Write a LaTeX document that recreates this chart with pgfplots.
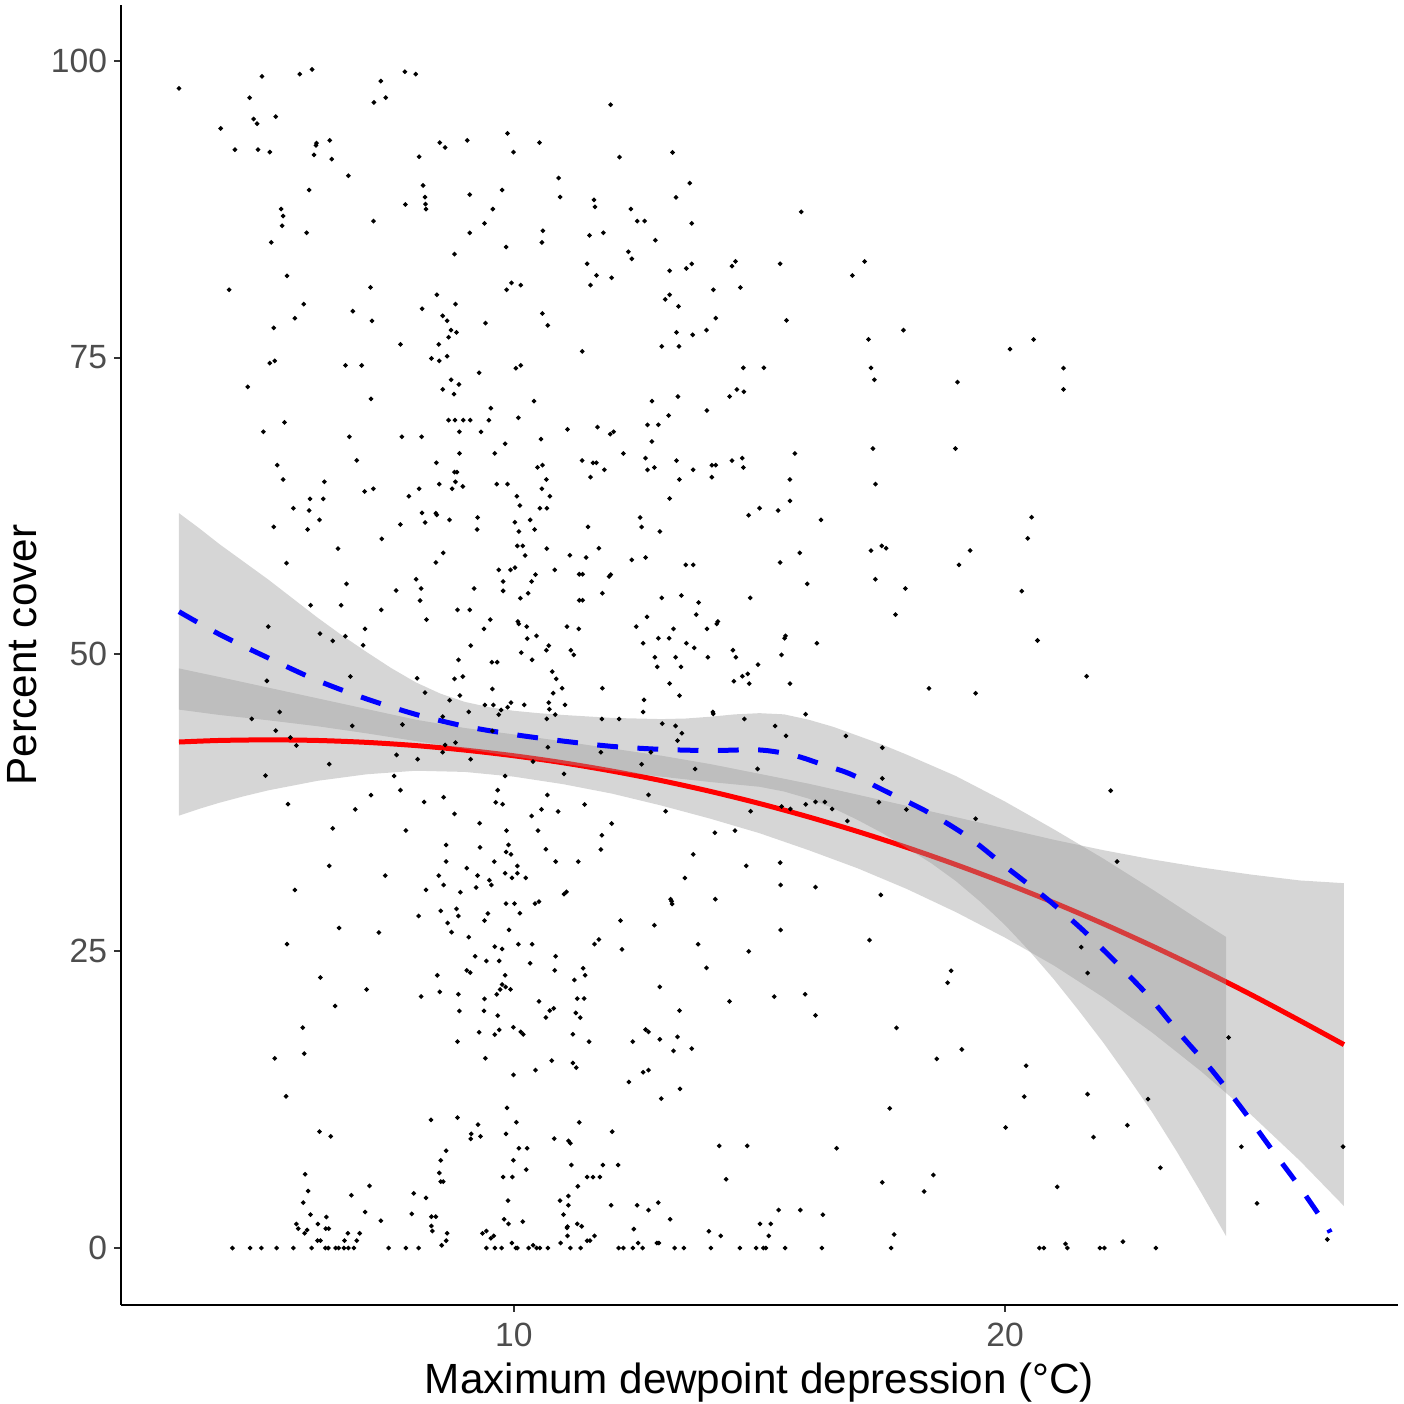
\documentclass[border=0pt]{standalone}
\usepackage{fontspec}
\setmainfont{Liberation Sans}
\usepackage{pgfplots}
\pgfplotsset{compat=1.18}
\usepackage{pgfplotstable}
\definecolor{ribbon}{RGB}{153,153,153}
\definecolor{ticklab}{RGB}{77,77,77}
\definecolor{tickcol}{RGB}{51,51,51}
\definecolor{fitred}{RGB}{255,0,0}
\definecolor{fitblue}{RGB}{0,0,255}

\pgfplotstableread{
x y
3.18 97.67
4.87 98.68
5.64 98.88
5.89 99.27
7.78 99.08
8.00 98.88
7.29 98.29
4.62 96.89
7.15 96.49
7.39 96.89
4.70 95.09
4.77 94.70
5.15 95.29
4.03 94.30
4.32 92.51
4.79 92.51
5.03 92.31
5.98 93.07
5.97 92.87
6.25 93.29
5.93 92.08
6.29 91.72
6.63 90.32
8.07 91.92
8.49 93.10
8.60 92.70
9.05 93.29
9.87 93.88
10.52 93.10
9.99 92.31
10.91 90.12
10.94 88.52
5.83 89.11
8.15 89.50
8.19 88.52
8.20 87.93
8.21 87.51
7.79 87.90
9.10 88.72
9.76 89.11
9.57 87.51
9.40 86.30
9.10 85.51
5.26 87.51
5.30 86.92
5.28 86.10
5.78 85.51
7.14 86.50
5.06 84.70
10.59 85.68
10.57 84.70
9.84 84.31
8.79 83.72
5.38 81.89
4.20 80.71
7.08 80.91
9.85 80.71
9.95 81.30
10.14 81.10
8.43 80.29
8.81 79.50
8.13 79.11
5.72 79.50
5.54 78.32
6.72 78.91
7.11 78.10
8.55 78.52
8.64 78.10
8.72 77.31
8.83 77.12
8.67 76.72
9.42 77.90
10.58 78.72
10.69 77.71
5.11 77.51
7.69 76.11
8.47 76.11
8.32 74.93
8.48 74.73
8.64 75.12
5.03 74.53
5.13 74.73
6.57 74.34
6.90 74.34
9.29 73.72
10.04 74.11
10.14 74.34
4.58 72.54
8.72 73.13
8.88 72.74
8.55 72.32
8.78 71.92
7.09 71.53
10.41 71.33
9.53 70.74
8.67 69.73
8.80 69.73
8.97 69.73
9.11 69.73
9.49 69.73
10.09 69.93
11.09 68.95
4.90 68.75
5.33 69.54
6.65 68.33
7.72 68.33
8.12 68.33
8.89 68.75
9.33 68.75
10.55 68.13
9.82 67.74
8.89 66.93
9.61 66.93
6.80 66.34
5.18 65.94
8.42 66.14
8.79 65.35
8.84 65.35
10.48 65.75
10.58 65.94
5.30 64.73
6.14 64.54
8.48 64.34
8.81 64.54
8.96 64.15
9.65 64.34
9.87 64.34
10.66 64.73
7.14 63.95
8.07 63.95
8.74 63.95
10.57 63.95
11.97 96.30
12.15 91.89
13.23 92.28
13.58 89.70
13.30 88.49
11.63 88.29
11.65 87.70
12.38 87.51
12.51 86.50
12.66 86.50
13.62 86.30
15.85 87.28
11.54 85.29
11.82 85.51
12.88 84.89
12.33 83.91
12.40 83.32
11.49 82.90
11.68 81.92
11.56 81.10
11.99 81.72
13.17 82.31
13.51 82.51
13.62 82.90
14.44 82.71
14.51 83.10
15.42 82.90
17.14 83.10
16.89 81.92
14.06 80.71
14.61 80.91
13.17 80.29
13.08 79.90
13.35 79.31
14.11 78.32
15.55 78.13
17.93 77.31
13.31 77.12
13.64 76.92
13.92 77.31
13.01 75.94
13.36 75.94
11.39 75.52
17.22 76.53
14.67 74.14
15.09 74.14
17.27 74.14
17.34 73.13
19.03 72.93
14.54 72.31
14.68 72.12
14.39 71.72
13.34 71.72
12.81 71.33
13.93 70.54
13.15 70.12
12.72 69.34
12.94 69.34
11.70 69.14
11.96 68.55
12.03 68.75
12.81 67.93
12.23 66.92
12.68 66.53
11.39 66.33
11.61 66.14
11.68 66.14
11.84 65.55
12.72 65.55
12.86 65.74
13.31 66.33
13.65 65.55
14.03 65.94
14.11 65.94
14.44 66.33
14.65 66.53
14.67 65.74
15.72 66.92
17.31 67.34
18.99 67.34
11.56 64.93
13.37 64.73
14.03 64.93
15.62 64.73
17.36 64.34
13.17 63.13
12.57 61.53
12.60 60.74
12.97 60.35
11.51 60.74
14.78 61.72
15.00 62.31
15.38 62.12
15.62 62.93
16.25 61.33
11.73 58.94
11.47 58.16
11.14 58.35
12.40 57.96
12.68 58.16
13.50 57.54
13.65 57.54
15.42 57.74
15.82 58.55
17.27 58.75
17.49 59.14
17.58 58.94
19.29 58.75
19.06 57.54
17.36 56.33
17.97 55.55
17.77 53.35
11.33 56.75
11.40 56.75
11.94 56.56
11.97 56.72
11.80 55.15
15.97 55.94
11.33 54.56
11.40 54.56
13.01 54.76
13.41 54.96
14.81 54.76
13.76 54.37
13.71 53.35
12.71 53.16
12.49 52.34
11.32 52.15
14.15 52.77
14.13 52.57
13.93 52.15
13.25 52.15
15.53 51.56
15.51 51.36
12.94 51.36
13.16 51.36
12.63 50.94
13.51 50.94
13.67 50.55
16.17 50.94
11.16 50.35
11.22 49.96
14.46 50.35
14.52 49.76
15.45 49.96
12.87 49.76
13.29 49.76
13.95 49.76
12.92 48.95
13.40 48.95
14.97 49.14
14.76 48.36
14.65 48.16
14.48 47.74
14.79 47.54
15.62 47.54
13.17 47.54
11.80 47.15
5.85 63.10
6.12 63.10
5.51 62.31
5.83 62.12
6.04 61.33
5.11 60.74
5.80 60.52
6.96 63.72
7.86 63.32
8.41 61.89
8.43 61.75
8.13 61.92
8.19 61.11
8.69 61.33
7.69 60.94
7.31 59.73
6.42 58.91
5.37 57.68
6.59 55.94
7.60 55.38
8.01 56.33
8.11 55.55
8.09 54.53
7.30 53.75
8.22 52.93
8.56 58.55
8.41 57.74
8.85 53.75
9.10 53.75
9.26 61.53
9.25 60.52
9.19 55.55
9.52 52.93
9.39 52.15
10.06 63.32
10.12 62.54
10.02 61.13
10.10 60.35
10.33 61.33
10.42 60.52
10.53 62.31
10.67 62.31
10.73 63.32
10.07 59.14
10.18 59.14
10.23 58.33
10.67 58.91
9.69 57.12
9.93 57.12
10.02 57.31
9.78 56.14
9.78 55.35
10.44 56.72
10.36 56.14
10.83 57.12
10.13 54.73
10.29 55.15
10.08 52.77
10.10 52.57
10.26 52.34
10.46 51.56
10.27 51.33
10.15 50.15
10.37 49.54
11.08 52.34
10.71 50.74
10.66 50.35
10.78 48.55
10.86 47.94
10.80 46.73
10.98 47.15
10.71 45.94
10.72 45.38
10.84 44.93
10.67 44.57
10.69 42.18
11.04 45.74
11.02 39.93
9.55 49.34
9.66 49.34
8.87 49.54
9.12 50.74
8.79 47.94
8.96 48.13
8.90 46.53
9.56 47.09
8.69 46.14
9.41 45.74
9.58 45.74
9.74 45.32
9.87 45.55
9.94 45.94
10.21 45.74
9.69 44.93
9.08 45.15
9.56 43.55
10.39 40.97
9.82 39.76
9.67 38.56
9.63 37.54
9.77 37.38
9.85 35.16
9.89 33.95
9.84 33.36
9.94 33.16
9.30 35.78
9.31 33.75
8.79 36.56
8.57 37.97
8.62 33.95
9.12 41.17
8.81 42.57
8.60 42.37
8.55 41.76
8.55 44.76
8.17 37.57
8.04 41.17
8.03 47.99
8.19 46.78
7.73 44.09
7.61 41.53
7.56 39.76
7.69 38.56
7.80 35.16
7.09 38.14
6.77 36.95
6.31 35.35
6.71 43.98
6.67 48.13
6.97 52.15
6.93 50.77
6.57 51.53
6.31 51.14
6.05 51.75
6.48 54.14
5.86 54.14
6.24 40.75
5.57 42.32
5.45 43.00
5.15 43.58
5.23 45.15
4.66 44.57
4.97 47.77
5.00 52.34
4.94 39.79
5.40 37.38
10.49 35.16
10.65 33.59
10.56 36.95
10.36 36.39
10.90 36.76
10.68 38.16
12.65 46.17
12.63 45.15
13.37 46.53
14.05 45.15
14.06 44.99
11.79 44.56
12.14 44.56
13.02 44.17
13.29 43.97
13.42 43.36
13.33 42.74
14.69 44.56
15.32 43.97
15.94 44.96
15.54 43.13
16.76 43.13
11.77 41.76
12.79 41.76
12.60 40.74
13.69 40.35
14.96 40.35
12.74 38.16
11.44 37.35
11.99 35.75
13.09 36.79
11.79 34.76
11.77 33.56
11.31 32.55
14.09 34.98
13.65 33.16
14.50 35.16
14.82 36.79
15.45 37.18
15.63 36.98
15.94 37.37
16.14 37.57
16.33 37.57
16.48 36.98
16.79 35.97
15.42 32.46
14.73 32.18
13.48 31.17
18.45 47.14
19.40 46.72
17.50 42.14
17.50 39.55
17.43 37.55
17.99 36.94
19.40 36.16
22.15 38.52
22.28 32.55
17.47 29.74
17.24 25.93
18.90 23.35
18.83 22.35
21.55 25.35
21.68 23.16
17.79 18.54
18.61 15.93
19.12 16.73
20.43 15.35
20.39 12.76
21.68 12.96
22.91 12.54
24.55 17.73
17.65 11.76
20.01 10.15
22.49 10.34
21.80 9.34
24.81 8.53
26.88 8.53
23.16 6.76
17.50 5.53
18.54 6.15
18.35 4.76
21.06 5.15
25.13 3.76
17.74 1.14
17.68 0
20.70 0
20.79 0
21.27 0
21.93 0
22.02 0
23.07 0
21.23 0.34
22.40 0.53
26.56 0.72
20.58 76.52
20.10 75.72
21.19 74.11
21.19 72.32
20.54 61.56
20.46 59.77
20.34 55.33
20.66 51.17
21.66 48.15
6.24 32.18
7.38 31.37
8.62 32.55
9.04 31.99
9.60 32.55
8.47 31.37
8.57 30.58
9.26 31.37
9.50 30.98
9.54 30.58
9.23 30.36
8.91 29.97
8.21 30.16
5.54 30.16
8.06 27.97
8.51 28.39
8.83 28.56
8.87 27.97
9.47 28.17
9.40 27.58
8.65 27.38
8.73 26.60
9.08 26.18
6.44 26.96
7.25 26.57
5.38 25.59
9.61 25.39
9.21 24.57
9.44 24.18
9.70 24.18
9.04 23.39
9.11 23.20
8.44 22.97
6.06 22.78
7.00 21.77
8.49 21.57
8.11 21.18
8.87 21.37
9.40 20.98
9.65 21.37
9.72 21.77
6.36 20.39
8.89 19.97
9.39 19.97
9.67 19.58
9.70 18.37
9.29 18.17
9.61 17.98
5.70 18.56
8.85 17.38
5.73 16.37
5.13 15.98
9.42 15.98
5.36 12.78
8.31 10.79
8.85 10.98
9.27 10.39
9.13 9.61
9.12 9.19
9.32 9.41
6.04 9.80
6.27 9.41
8.62 8.20
8.51 7.39
8.48 6.32
8.51 5.59
8.56 5.59
5.75 6.21
5.81 4.80
5.71 3.82
7.06 5.23
6.69 4.44
7.96 4.61
8.21 4.22
6.97 3.03
7.29 2.30
7.92 2.87
8.32 2.64
8.41 2.64
8.32 1.86
8.34 1.43
5.86 2.81
5.57 2.02
5.61 1.63
5.74 1.24
5.79 1.52
6.01 2.02
6.18 2.61
6.17 1.63
6.23 1.63
6.62 1.24
6.86 1.24
6.00 0.62
6.06 0.62
6.55 0.62
6.80 0.62
8.64 1.24
8.62 0.62
8.53 0.23
9.36 1.24
9.44 1.43
9.53 0.82
9.59 1.02
4.27 0
4.63 0
4.86 0
5.17 0
5.51 0
5.88 0
6.16 0
6.22 0
6.37 0
6.43 0
6.54 0
6.63 0
6.74 0
7.45 0
7.80 0
8.06 0
9.44 0
9.61 0
10.07 32.18
9.82 31.57
9.96 31.17
10.07 31.57
10.24 31.17
10.85 32.55
9.84 29.01
10.01 29.01
10.12 28.20
10.43 29.01
10.51 29.18
11.02 29.80
11.07 29.99
9.90 26.79
9.76 25.19
10.09 25.59
10.37 25.59
10.33 23.98
10.85 24.57
10.83 23.39
9.82 22.97
9.76 22.19
9.83 21.99
9.93 21.79
11.23 22.58
11.41 23.56
11.45 22.97
11.64 25.59
11.73 25.98
12.17 27.58
12.20 25.16
12.86 27.19
13.19 29.38
13.21 29.21
13.22 28.98
15.43 30.58
16.14 30.39
14.10 29.38
13.75 25.59
14.78 24.99
15.43 26.79
13.92 23.59
12.97 21.99
14.39 20.78
15.30 21.18
15.93 21.37
16.14 19.60
13.37 20.00
10.51 20.78
10.73 20.00
10.81 20.19
10.65 19.41
11.29 21.01
11.43 21.01
11.26 19.80
11.35 19.41
9.99 18.59
10.14 18.20
10.19 18.00
11.20 18.00
11.53 17.38
12.68 18.40
12.74 18.20
12.97 17.58
13.33 17.78
13.25 16.60
13.62 16.80
12.42 17.38
10.77 15.78
10.44 14.98
11.20 15.59
11.27 15.19
9.99 14.58
12.63 14.80
12.74 14.98
12.34 13.99
13.38 13.40
13.00 12.58
9.86 11.80
10.05 10.59
11.33 10.59
9.84 9.61
12.00 9.80
10.82 9.21
11.11 9.02
11.15 8.82
10.10 8.40
10.27 8.40
14.18 8.60
14.75 8.60
16.57 8.40
9.99 7.39
10.25 6.60
11.17 6.99
11.81 6.99
12.12 6.99
9.78 5.98
9.97 5.98
11.49 5.98
11.61 5.98
11.75 5.98
11.30 5.20
14.32 5.79
9.88 3.99
10.94 3.99
11.11 4.38
11.11 3.60
11.98 3.60
12.51 3.60
12.74 3.20
12.94 3.82
15.39 3.20
15.83 3.20
16.29 2.81
9.80 2.42
9.89 2.03
10.18 2.22
11.01 2.81
11.08 1.69
11.09 1.80
11.29 2.03
11.38 1.83
11.09 1.02
11.49 0.62
11.55 0.62
11.64 1.02
12.44 1.60
13.18 2.42
13.97 1.41
14.21 1.02
15.01 2.03
15.23 2.03
15.19 1.02
9.96 0.42
10.39 0.23
10.95 0.42
12.53 0.42
12.91 0.42
12.95 0.42
9.75 0
10.04 0
10.07 0
10.30 0
10.46 0
10.53 0
10.69 0
11.15 0
11.36 0
12.13 0
12.23 0
12.42 0
12.62 0
13.27 0
13.46 0
14.01 0
14.60 0
14.93 0
15.08 0
15.13 0
15.52 0
16.27 0
}\pts

\begin{document}
\begin{tikzpicture}
\begin{axis}[
  at={(0,0)}, anchor=south west,
  scale only axis, width=459.72pt, height=468pt,
  xmin=2.0, xmax=28.0, ymin=-4.8, ymax=104.7,
  axis x line*=bottom, axis y line*=left,
  axis line style={line width=0.75pt, black, -},
  xtick={10,20}, ytick={0,25,50,75,100},
  minor tick num=0,
  tick align=outside, major tick length=2.5pt,
  tick style={line width=0.75pt, color=tickcol},
  ticklabel style={font=\fontsize{12.1}{14}\selectfont, text=ticklab},
  yticklabel style={xshift=1.0pt},
  xticklabel style={yshift=-0.6pt},
  /pgf/number format/assume math mode=true,
  xlabel={Maximum dewpoint depression (°C)},
  ylabel={Percent cover},
  xlabel style={at={(axis description cs:0.5,-0.0677)}, anchor=base, font=\fontsize{15.2}{18}\selectfont},
  ylabel style={at={(axis description cs:-0.0658,0.5)}, anchor=base, font=\fontsize{15.2}{18}\selectfont},
]
% points
\addplot[only marks, mark=*, mark size=0.62pt, black] table {\pts};
% quadratic fit ribbon
\addplot[draw=none, fill=ribbon, fill opacity=0.4] coordinates {
(3.18,48.82) (3.6,48.45) (4,48.1) (4.5,47.65) (5,47.2) (5.5,46.75) (6,46.3) (7,45.4) (8,44.5) (9,43.8) (10,43.26)
(11,42.67) (12,42.07) (13,41.47) (14,40.76) (15,39.94) (16,39.11) (17,38.18) (18,37.24)
(19,36.29) (20,35.34) (21,34.38) (22,33.51) (23,32.73) (24,32.05) (25,31.46) (26,30.96) (26.9,30.73)
(26.9,3.53) (26,7.36) (25,11.26) (24,14.85) (23,18.13) (22,21.11) (21,23.78) (20,26.14)
(19,28.29) (18,30.24) (17,31.98) (16,33.51) (15,34.94) (14,36.16) (13,37.27) (12,38.27)
(11,39.07) (10,39.7) (9,40.1) (8,40.2) (7,39.9) (6,39.35) (5,38.55) (4.5,38.05) (4,37.5) (3.6,37.0) (3.18,36.42)
} -- cycle;
% quadratic fit line
\addplot[fitred, line width=1.8pt, smooth] coordinates {
(3.18,42.62) (4,42.75) (5,42.80) (6,42.75) (7,42.59) (8,42.32) (9,41.94) (10,41.46)
(11,40.87) (12,40.17) (13,39.37) (14,38.46) (15,37.44) (16,36.31) (17,35.08) (18,33.74)
(19,32.29) (20,30.74) (21,29.08) (22,27.31) (23,25.43) (24,23.45) (25,21.36) (26,19.16) (26.9,17.13)
};
% loess ribbon
\addplot[draw=none, fill=ribbon, fill opacity=0.4] coordinates {
(3.18,61.9) (3.6,60.6) (4,59.3) (4.5,57.8) (5,56.3) (5.5,54.7) (6,53.1) (6.5,51.6) (7,50.2) (7.5,48.85)
(8,47.65) (8.5,46.7) (9,46.0) (9.5,45.55) (10,45.25) (10.5,45.05) (11,44.9) (12,44.65) (13,44.55)
(13.5,44.6) (14,44.75) (14.5,44.95) (15,45.05) (15.5,44.95) (16,44.5) (16.5,43.9) (17,43.15)
(17.5,42.4) (18,41.55) (19,39.75) (20,37.6) (21,35.25) (22,32.8) (23,30.2) (24,27.5) (24.5,26.2)
(24.5,1.0) (24,4.6) (23.5,8.1) (23,11.4) (22.5,14.4) (22,17.3) (21.5,20.0) (21,22.6) (20.5,25.0)
(20,27.2) (19.5,29.15) (19,30.9) (18.5,32.4) (18,33.7) (17.5,34.95) (17,36.05) (16.5,37.05)
(16,37.85) (15.5,38.45) (15,38.85) (14,39.25) (13,39.7) (12,40.2) (11,40.8) (10,41.4)
(9,42.05) (8,42.7) (7,43.35) (6,43.95) (5,44.45) (4,44.9) (3.18,45.35)
} -- cycle;
% loess line
\addplot[fitblue, line width=1.8pt, dash pattern=on 7.5pt off 7pt, smooth] coordinates {
(3.18,53.6) (4,51.7) (5,49.7) (6,47.8) (7,46.25) (8,44.95) (9,43.95) (10,43.25)
(11,42.7) (12,42.25) (13,42.0) (14,41.9) (15,41.95) (15.7,41.5) (16.3,40.7) (16.84,39.94)
(17.56,38.49) (18.43,36.71) (19.25,34.62) (20.04,32.03) (20.84,29.45) (21.56,26.87)
(22.24,24.13) (22.92,21.22) (23.57,17.99) (24.22,14.93) (24.83,11.70) (25.40,8.47)
(25.98,5.24) (26.52,2.01) (26.62,1.3)
};
\end{axis}
\pgfresetboundingbox
\path (-43.56pt,-35.64pt) rectangle (461.88pt,469.8pt);
\end{tikzpicture}
\end{document}
